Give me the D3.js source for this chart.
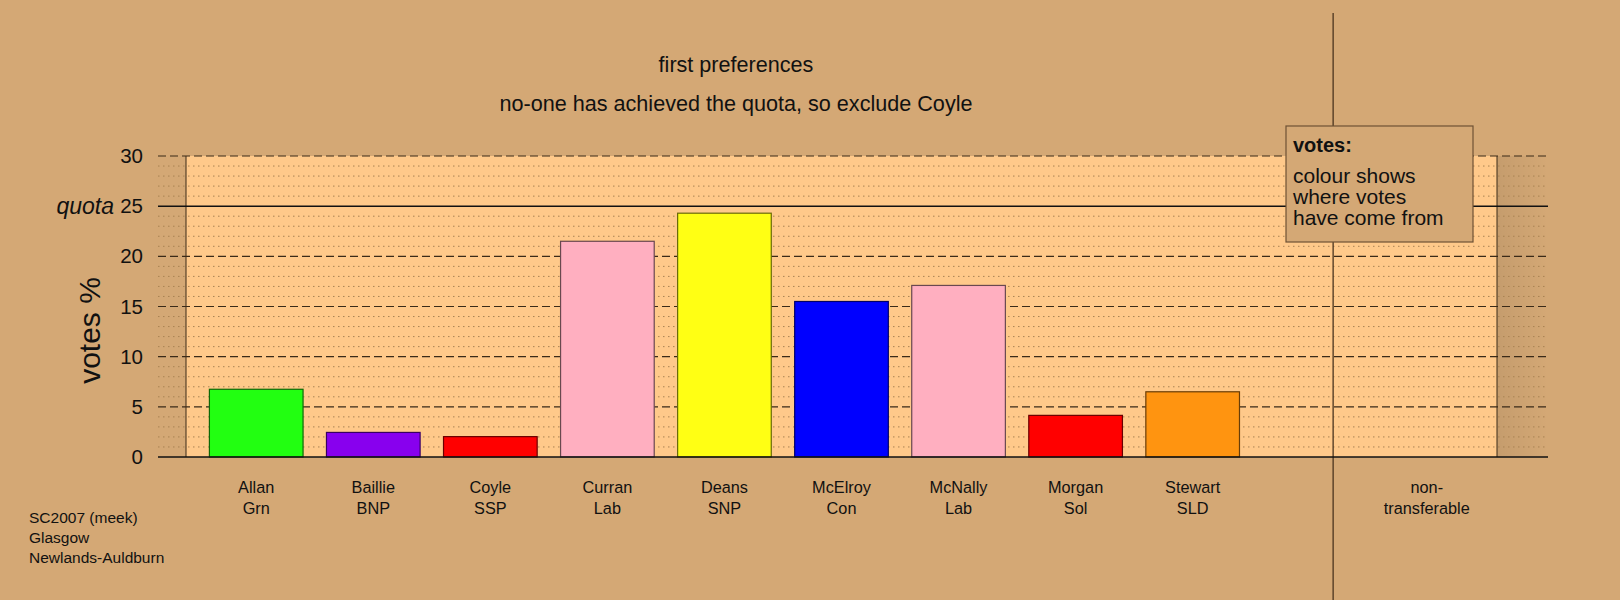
<!DOCTYPE html>
<html>
<head>
<meta charset="utf-8">
<script src="https://cdn.jsdelivr.net/npm/d3@7"></script>
<style>
  html, body { margin: 0; padding: 0; background: #d4a875; }
  svg { display: block; font-family: "Liberation Sans", Arial, sans-serif; }
</style>
</head>
<body>
<svg id="chart" width="1620" height="600"></svg>
<script>
// ---- data ----
const candidates = ["Allan", "Baillie", "Coyle", "Curran", "Deans", "McElroy", "McNally", "Morgan", "Stewart", "", "non-"];
const parties    = ["Grn", "BNP", "SSP", "Lab", "SNP", "Con", "Lab", "Sol", "SLD", "", "transferable"];
const votes      = [6.75, 2.45, 2.03, 21.5, 24.3, 15.5, 17.1, 4.15, 6.5, 0, 0];
const colours    = ["#22ff11", "#8800ee", "#ff0000", "#ffafc0", "#ffff14", "#0000ff", "#ffafc0", "#ff0000", "#ff9410", "none", "none"];
const yTicks     = [0, 5, 10, 15, 20, 25, 30];
const quota      = 25;
const titleLines = ["first preferences", "no-one has achieved the quota, so exclude Coyle"];
const legendLines = ["colour shows", "where votes", "have come from"];
const footerLines = ["SC2007 (meek)", "Glasgow", "Newlands-Auldburn"];

// ---- layout ----
const W = 1620, H = 600;
const panel = { left: 186, right: 1497, top: 156, bottom: 457 };
const gridLeft = 158, gridRight = 1548;

const svg = d3.select("#chart");
const keys = candidates.map((c, i) => i);

const x = d3.scaleBand().domain(keys).range([panel.left, panel.right])
  .paddingInner(0.2).paddingOuter(0.2);
const y = d3.scaleLinear().domain([0, 30]).range([panel.bottom, panel.top]);

// background
svg.append("rect").attr("width", W).attr("height", H).attr("fill", "#d4a875");

const defs = svg.append("defs");
const grad = defs.append("linearGradient").attr("id", "shade").attr("x1", 0).attr("x2", 1);
grad.append("stop").attr("offset", 0).attr("stop-color", "#000").attr("stop-opacity", 0.07);
grad.append("stop").attr("offset", 1).attr("stop-color", "#000").attr("stop-opacity", 0);

// right shade
svg.append("rect").attr("x", panel.right).attr("y", y(30))
  .attr("width", gridRight - panel.right).attr("height", y(0) - y(30))
  .attr("fill", "url(#shade)");

// panel
svg.append("rect").attr("x", panel.left).attr("y", y(30))
  .attr("width", panel.right - panel.left).attr("height", y(0) - y(30))
  .attr("fill", "#ffc98a");

// minor dotted grid
const minor = d3.range(1, 30).filter(v => v % 5 !== 0);
svg.append("g").selectAll("line").data(minor).join("line")
  .attr("x1", gridLeft).attr("x2", gridRight)
  .attr("y1", d => y(d)).attr("y2", d => y(d))
  .attr("stroke", "#a98353").attr("stroke-width", 1)
  .attr("stroke-dasharray", "1.5,3.5");

// major dashed grid
svg.append("g").selectAll("line").data(yTicks.filter(v => v !== 0 && v !== quota)).join("line")
  .attr("x1", gridLeft).attr("x2", gridRight)
  .attr("y1", d => y(d)).attr("y2", d => y(d))
  .attr("stroke", "#3a2a18").attr("stroke-width", 1.2)
  .attr("stroke-dasharray", "8,4");

// panel side borders
svg.append("g").selectAll("line").data([panel.left, panel.right]).join("line")
  .attr("x1", d => d).attr("x2", d => d)
  .attr("y1", y(30)).attr("y2", y(0))
  .attr("stroke", "#3a2a18").attr("stroke-width", 1);

// vertical separator
const sepX = x(keys[10]) - x.step() * 0.4;
svg.append("line").attr("x1", sepX).attr("x2", sepX).attr("y1", 13).attr("y2", H)
  .attr("stroke", "#4a3520").attr("stroke-width", 1.3);

// bars
svg.append("g").selectAll("rect").data(keys.filter(i => votes[i] > 0)).join("rect")
  .attr("x", i => x(i)).attr("width", x.bandwidth())
  .attr("y", i => y(votes[i])).attr("height", i => y(0) - y(votes[i]))
  .attr("fill", i => colours[i])
  .attr("stroke", i => d3.color(colours[i]).darker(2.5))
  .attr("stroke-width", 1.2);

// quota and zero lines
svg.append("g").selectAll("line").data([0, quota]).join("line")
  .attr("x1", gridLeft).attr("x2", gridRight)
  .attr("y1", d => y(d)).attr("y2", d => y(d))
  .attr("stroke", "#111").attr("stroke-width", 1.5);

// y axis labels
const yAxis = d3.axisLeft(y).tickValues(yTicks).tickSize(0).tickPadding(0);
const ga = svg.append("g").attr("transform", `translate(143,0)`).call(yAxis);
ga.select(".domain").remove();
ga.selectAll("text").attr("font-size", 20.5).attr("fill", "#111")
  .attr("font-family", "'Liberation Sans', Arial, sans-serif");

svg.append("text").attr("x", 114).attr("y", y(quota)).attr("dy", "0.35em")
  .attr("text-anchor", "end").attr("font-size", 23).attr("font-style", "italic")
  .attr("fill", "#111").text("quota");

svg.append("text").attr("transform", `translate(100,${(y(0) + y(30)) / 2 + 24}) rotate(-90)`)
  .attr("text-anchor", "middle").attr("font-size", 30).attr("fill", "#111").text("votes %");

// category labels
const xl = svg.append("g");
keys.forEach(i => {
  const cx = x(i) + x.bandwidth() / 2;
  xl.append("text").attr("x", cx).attr("y", 493).attr("text-anchor", "middle")
    .attr("font-size", 16.3).attr("fill", "#111").text(candidates[i]);
  xl.append("text").attr("x", cx).attr("y", 514).attr("text-anchor", "middle")
    .attr("font-size", 16.3).attr("fill", "#111").text(parties[i]);
});

// titles
svg.append("g").selectAll("text").data(titleLines).join("text")
  .attr("x", 736).attr("y", (d, i) => 72 + i * 39)
  .attr("text-anchor", "middle").attr("font-size", 21.6).attr("fill", "#111")
  .text(d => d);

// legend box
const lg = svg.append("g");
lg.append("rect").attr("x", 1286).attr("y", 126).attr("width", 187).attr("height", 116)
  .attr("fill", "#d4a875").attr("stroke", "#6e5234").attr("stroke-width", 1.2);
lg.append("text").attr("x", 1293).attr("y", 152).attr("font-size", 20)
  .attr("font-weight", "bold").attr("fill", "#111").text("votes:");
lg.selectAll("text.l").data(legendLines).join("text").attr("class", "l")
  .attr("x", 1293).attr("y", (d, i) => 183 + i * 21)
  .attr("font-size", 21).attr("fill", "#111").text(d => d);

// footer
svg.append("g").selectAll("text").data(footerLines).join("text")
  .attr("x", 29).attr("y", (d, i) => 523 + i * 20)
  .attr("font-size", 15.5).attr("fill", "#111").text(d => d);
</script>
</body>
</html>
